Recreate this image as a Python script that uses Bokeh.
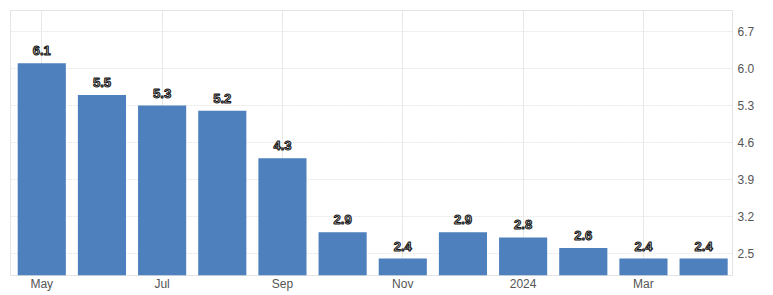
from bokeh.plotting import figure
from bokeh.models import ColumnDataSource, FixedTicker, Range1d
from bokeh.core.properties import value
from bokeh.embed import file_html
from bokeh.resources import INLINE

months = ["May", "Jun", "Jul", "Aug", "Sep", "Oct", "Nov", "Dec", "2024", "Feb", "Mar", "Apr"]
values = [6.1, 5.5, 5.3, 5.2, 4.3, 2.9, 2.4, 2.9, 2.8, 2.6, 2.4, 2.4]
y_ticks = [2.5, 3.2, 3.9, 4.6, 5.3, 6.0, 6.7]
x_tick_labels = {0: "May", 2: "Jul", 4: "Sep", 6: "Nov", 8: "2024", 10: "Mar"}

idx = list(range(len(months)))
src = ColumnDataSource(dict(x=idx, top=values, label=[f"{v:.1f}" for v in values], month=months))

p = figure(width=771, height=293, output_backend="svg", toolbar_location=None,
           x_range=Range1d(-0.52, 11.48), y_range=Range1d(2.08, 7.1),
           y_axis_location="right", min_border_top=10, min_border_left=10,
           min_border_right=39, min_border_bottom=0)

p.vbar(x="x", top="top", bottom=2.08, width=0.8, source=src,
       fill_color="#4d80bd", line_color=None)

p.text(x="x", y="top", text="label", source=src, text_align="center",
       text_baseline="bottom", y_offset=-8, text_font=value("Liberation Sans"),
       text_font_style="bold", text_font_size="13px", text_color="#c8c8c8",
       text_outline_color="#111111")

p.xaxis.ticker = FixedTicker(ticks=list(x_tick_labels.keys()))
p.xaxis.major_label_overrides = x_tick_labels
p.yaxis.ticker = FixedTicker(ticks=y_ticks)
p.yaxis.major_label_overrides = {t: f"{t:.1f}" for t in y_ticks}

for ax in (p.xaxis[0], p.yaxis[0]):
    ax.axis_line_color = None
    ax.major_tick_line_color = None
    ax.minor_tick_line_color = None
    ax.major_tick_out = 0
    ax.major_tick_in = 0
    ax.major_label_text_font = "Liberation Sans"
    ax.major_label_text_font_size = "12px"
    ax.major_label_text_color = "#555555"
p.xaxis.major_label_standoff = 1
p.yaxis.major_label_standoff = 5

p.xgrid.grid_line_color = "#e8e8e8"
p.ygrid.grid_line_color = "#e8e8e8"
p.ygrid.grid_line_dash = "2 1"
p.outline_line_color = "#e4e4e4"
p.background_fill_color = "white"
p.border_fill_color = "white"

open("out.html", "w").write(file_html(p, INLINE))
